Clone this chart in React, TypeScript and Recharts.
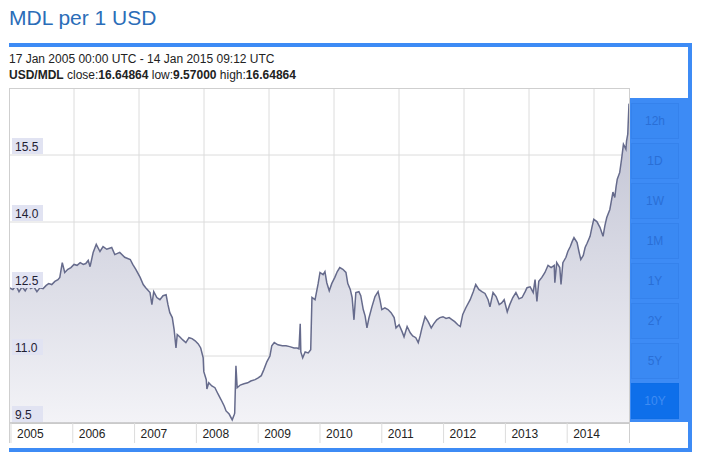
import React from "react";
import { AreaChart, Area, XAxis, YAxis, CartesianGrid } from "recharts";

// USD/MDL close (decimal years)
const years = [
  2004.97, 2005.03, 2005.08, 2005.13, 2005.18, 2005.23, 2005.28, 2005.32, 2005.37, 2005.42,
  2005.47, 2005.52, 2005.57, 2005.61, 2005.66, 2005.71, 2005.76, 2005.79, 2005.83, 2005.87,
  2005.92, 2005.97, 2006.02, 2006.07, 2006.12, 2006.17, 2006.21, 2006.25, 2006.28, 2006.33,
  2006.38, 2006.44, 2006.49, 2006.55, 2006.63, 2006.68, 2006.76, 2006.84, 2006.93, 2006.97,
  2007.02, 2007.09, 2007.14, 2007.18, 2007.25, 2007.28, 2007.31, 2007.36, 2007.41, 2007.46,
  2007.51, 2007.54, 2007.57, 2007.61, 2007.64, 2007.67, 2007.69, 2007.73, 2007.78, 2007.83,
  2007.88, 2007.93, 2007.98, 2008.03, 2008.07, 2008.11, 2008.12, 2008.16, 2008.17, 2008.2,
  2008.25, 2008.3, 2008.35, 2008.4, 2008.45, 2008.48, 2008.53, 2008.58, 2008.61, 2008.62,
  2008.64, 2008.66, 2008.71, 2008.77, 2008.83, 2008.88, 2008.95, 2009.0, 2009.05, 2009.09,
  2009.14, 2009.19, 2009.22, 2009.26, 2009.32, 2009.39, 2009.45, 2009.51, 2009.58, 2009.63,
  2009.66, 2009.68, 2009.69, 2009.72, 2009.76, 2009.81, 2009.85, 2009.87, 2009.92, 2009.97,
  2010.0, 2010.05, 2010.08, 2010.11, 2010.15, 2010.19, 2010.24, 2010.28, 2010.32, 2010.37,
  2010.42, 2010.45, 2010.49, 2010.52, 2010.55, 2010.58, 2010.63, 2010.66, 2010.7, 2010.73,
  2010.76, 2010.79, 2010.84, 2010.89, 2010.94, 2010.97, 2011.0, 2011.05, 2011.1, 2011.15,
  2011.2, 2011.23, 2011.28, 2011.33, 2011.36, 2011.41, 2011.46, 2011.5, 2011.55, 2011.59,
  2011.62, 2011.65, 2011.7, 2011.75, 2011.8, 2011.84, 2011.89, 2011.94, 2011.99, 2012.04,
  2012.09, 2012.14, 2012.18, 2012.23, 2012.27, 2012.31, 2012.36, 2012.43, 2012.48, 2012.52,
  2012.57, 2012.62, 2012.67, 2012.72, 2012.75, 2012.8, 2012.85, 2012.9, 2012.94, 2012.98,
  2013.03, 2013.07, 2013.12, 2013.17, 2013.22, 2013.27, 2013.32, 2013.35, 2013.4, 2013.45,
  2013.48, 2013.51, 2013.54, 2013.59, 2013.64, 2013.69, 2013.74, 2013.79, 2013.8, 2013.83,
  2013.88, 2013.9, 2013.93, 2013.98, 2014.01, 2014.05, 2014.08, 2014.11, 2014.16, 2014.19,
  2014.22, 2014.26, 2014.29, 2014.32, 2014.37, 2014.4, 2014.43, 2014.48, 2014.53, 2014.58,
  2014.61, 2014.64, 2014.69, 2014.72, 2014.74, 2014.77, 2014.79, 2014.81, 2014.85, 2014.88,
  2014.9, 2014.91, 2014.95, 2014.96, 2014.98, 2015.0,
];

const rates = [
  12.53, 12.49, 12.58, 12.44, 12.55, 12.46, 12.58, 12.51, 12.55, 12.44,
  12.53, 12.51, 12.58, 12.62, 12.6, 12.67, 12.71, 12.76, 13.09, 12.87,
  12.94, 12.98, 13.05, 13.03, 13.09, 13.05, 13.07, 13.14, 13.0, 13.32,
  13.5, 13.34, 13.45, 13.39, 13.43, 13.27, 13.32, 13.21, 13.16, 13.05,
  12.94, 12.76, 12.6, 12.53, 12.42, 12.15, 12.44, 12.31, 12.26, 12.35,
  12.37, 12.15, 11.97, 11.86, 11.59, 11.18, 11.48, 11.43, 11.36, 11.3,
  11.41, 11.39, 11.34, 11.27, 11.18, 10.96, 10.65, 10.47, 10.26, 10.4,
  10.33, 10.29, 10.15, 10.02, 9.88, 9.77, 9.7, 9.57, 9.68, 9.72,
  10.78, 10.29, 10.35, 10.38, 10.4, 10.44, 10.47, 10.51, 10.56, 10.69,
  10.87, 11.0, 11.23, 11.3, 11.25, 11.23, 11.23, 11.21, 11.18, 11.18,
  11.16, 11.72, 11.09, 10.96, 11.09, 11.07, 11.14, 12.31, 12.26, 12.62,
  12.87, 12.82, 12.89, 12.64, 12.46, 12.62, 12.76, 12.89, 12.98, 12.94,
  12.87, 12.62, 12.49, 12.31, 11.81, 12.42, 12.44, 12.35, 12.04, 11.9,
  11.63, 11.84, 12.1, 12.33, 12.44, 12.26, 12.04, 12.08, 12.04, 11.97,
  11.86, 11.63, 11.7, 11.54, 11.43, 11.66, 11.52, 11.45, 11.41, 11.3,
  11.45, 11.63, 11.88, 11.77, 11.63, 11.72, 11.81, 11.86, 11.88, 11.84,
  11.86, 11.81, 11.77, 11.7, 11.66, 11.93, 12.08, 12.26, 12.44, 12.6,
  12.49, 12.44, 12.4, 12.26, 12.1, 12.42, 12.33, 12.15, 12.19, 12.26,
  11.99, 12.15, 12.31, 12.42, 12.28, 12.31, 12.44, 12.53, 12.55, 12.42,
  12.71, 12.22, 12.67, 12.76, 12.87, 13.03, 12.98, 13.03, 12.64, 13.09,
  12.98, 12.6, 13.09, 13.21, 13.34, 13.45, 13.56, 13.65, 13.54, 13.34,
  13.16, 13.25, 13.43, 13.52, 13.68, 13.88, 14.06, 14.01, 13.88, 13.68,
  13.92, 14.1, 14.28, 14.51, 14.67, 14.55, 14.78, 14.96, 15.11, 15.41,
  15.63, 15.74, 15.63, 15.81, 15.97, 16.65,
];

const yearTicks = [2005, 2006, 2007, 2008, 2009, 2010, 2011, 2012, 2013, 2014];
const rateTicks = [9.5, 11.0, 12.5, 14.0, 15.5, 17.0];
const rangeButtons = ["12h", "1D", "1W", "1M", "1Y", "2Y", "5Y", "10Y"];
const selectedRange = "10Y";

const data = years.map((t, i) => ({ t, rate: rates[i] }));

const FONT = "Arial, 'Liberation Sans', sans-serif";
const BLUE = "#3d8bf5";

const RateTick = (props: any) => {
  const { y, payload } = props;
  if (payload.value >= 17) return null;
  return (
    <g>
      <rect x={3} y={y - 17} width={31} height={16} fill="#e1e3f2" />
      <text x={6} y={y - 4} fontSize={12} fill="#1f2033" fontFamily={FONT} textAnchor="start">
        {payload.value.toFixed(1)}
      </text>
    </g>
  );
};

const YearTick = (props: any) => {
  const { x, y, payload } = props;
  return (
    <g>
      <line x1={x} x2={x} y1={y} y2={y + 20} stroke="#dcdcdc" />
      <text x={x + 6} y={y + 15} fontSize={12} fill="#222" fontFamily={FONT}>
        {payload.value}
      </text>
    </g>
  );
};

const App: React.FC = () => {
  return (
    <div
      style={{
        position: "absolute",
        left: 0,
        top: 0,
        width: 701,
        height: 452,
        background: "#fff",
        fontFamily: FONT,
        overflow: "hidden",
      }}
    >
      <div style={{ position: "absolute", left: 9, top: 6, fontSize: 21, lineHeight: "24px", color: "#2b6db8" }}>
        MDL per 1 USD
      </div>

      {/* blue frame */}
      <div
        style={{
          position: "absolute",
          left: 9,
          top: 43,
          width: 683,
          height: 409,
          boxSizing: "border-box",
          borderTop: `4px solid ${BLUE}`,
          borderRight: `4px solid ${BLUE}`,
          borderBottom: `4px solid ${BLUE}`,
        }}
      />

      <div style={{ position: "absolute", left: 9, top: 52, fontSize: 12, lineHeight: "14px", color: "#222" }}>
        17 Jan 2005 00:00 UTC - 14 Jan 2015 09:12 UTC
      </div>
      <div style={{ position: "absolute", left: 9, top: 68, fontSize: 12, lineHeight: "14px", color: "#222" }}>
        <b>USD/MDL</b> close:<b>16.64864</b> low:<b>9.57000</b> high:<b>16.64864</b>
      </div>

      <div style={{ position: "absolute", left: 9, top: 88 }}>
        <AreaChart width={620} height={356} data={data} margin={{ top: 0, right: 0, bottom: 0, left: 0 }}>
          <defs>
            <linearGradient id="rateFill" x1="0" y1="0" x2="0" y2="1">
              <stop offset="0%" stopColor="#bfc1d2" />
              <stop offset="100%" stopColor="#f3f3f7" />
            </linearGradient>
          </defs>
          <CartesianGrid
            stroke="#dcdcdc"
            verticalCoordinatesGenerator={({ offset }: any) =>
              Array.from({ length: 10 }, (_, i) => offset.left + i * 65)
            }
          />
          <Area
            type="linear"
            dataKey="rate"
            stroke="#666b8c"
            strokeWidth={1.5}
            fill="url(#rateFill)"
            fillOpacity={1}
            dot={false}
            activeDot={false}
            isAnimationActive={false}
          />
          <XAxis
            dataKey="t"
            type="number"
            domain={[2004.968, 2015.0]}
            allowDataOverflow
            ticks={yearTicks}
            height={21}
            tickSize={0}
            tickMargin={0}
            axisLine={{ stroke: "#a8a8a8" }}
            tick={<YearTick />}
            interval={0}
          />
          <YAxis
            type="number"
            domain={[9.5, 17]}
            ticks={rateTicks}
            width={40}
            mirror
            axisLine={false}
            tickLine={false}
            tick={<RateTick />}
            interval={0}
          />
        </AreaChart>
      </div>

      {/* plot frame */}
      <div
        style={{
          position: "absolute",
          left: 9,
          top: 88,
          width: 621,
          height: 355,
          boxSizing: "border-box",
          border: "1px solid #cfcfcf",
          borderBottom: "none",
          pointerEvents: "none",
        }}
      />

      {/* range buttons */}
      <div style={{ position: "absolute", left: 630, top: 98, width: 58, height: 324, background: BLUE }}>
        {rangeButtons.map((label, i) => {
          const active = label === selectedRange;
          return (
            <div
              key={label}
              style={{
                position: "absolute",
                left: 1,
                top: 5 + i * 40,
                width: 48,
                height: 36,
                boxSizing: "border-box",
                border: `1px solid ${active ? "#0d6de6" : "#3582ec"}`,
                background: active ? "#0e6fea" : "#3a89f3",
                color: active ? "#3f8cf3" : "#2a6fd6",
                fontSize: 12,
                lineHeight: "34px",
                textAlign: "center",
              }}
            >
              {label}
            </div>
          );
        })}
      </div>
    </div>
  );
};

export default App;
